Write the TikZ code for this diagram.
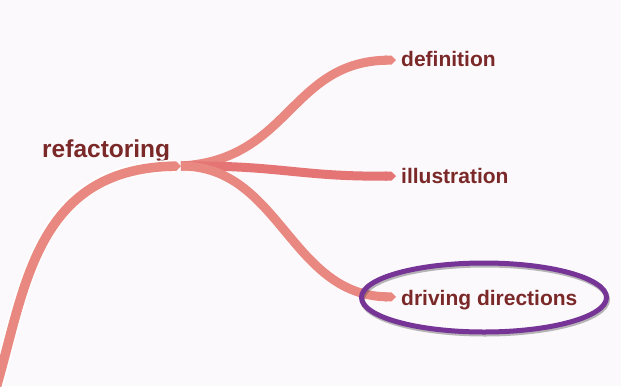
\documentclass[tikz,border=0pt]{standalone}
\usepackage{fontspec}
\setmainfont{Liberation Sans}
\usetikzlibrary{arrows.meta}
\definecolor{bgtint}{RGB}{252,249,252}
\definecolor{branchsalmon}{RGB}{232,136,128}
\definecolor{branchrose}{RGB}{229,116,116}
\definecolor{labelbrown}{RGB}{122,40,40}
\definecolor{ringpurple}{RGB}{118,52,150}
\tikzset{
  topic/.style={text=labelbrown, font=\bfseries\fontsize{21}{21}\selectfont, inner sep=0pt},
  roottopic/.style={topic, font=\bfseries\fontsize{24.5}{24.5}\selectfont},
  branch/.style={draw=branchsalmon, line width=9, line cap=butt, -{Triangle Cap[]}},
  ring/.style={draw=ringpurple, line width=5},
}
\begin{document}
\begin{tikzpicture}[x=1pt, y=-1pt]
  \fill[bgtint] (0,0) rectangle (621,386);
  \useasboundingbox (0,0) rectangle (621,386);

  % topic labels
  \node[roottopic, anchor=base west] (root) at (42,157) {refactoring};
  \node[topic, anchor=base west] (def) at (401,66) {definition};
  \node[topic, anchor=base west] (ill) at (401,183) {illustration};
  \node[topic, anchor=base west] (drv) at (401,305) {driving directions};

  % branch points
  \coordinate (hub) at (181,166);
  \coordinate (src) at (-4,388);
  \coordinate (defend) at (396,60);
  \coordinate (illend) at (396,176);
  \coordinate (drvend) at (396,297);

  % child branches
  \draw[branch] (hub) .. controls (290,160) and (290,62) .. (defend);
  \draw[branch, draw=branchrose] (hub) .. controls (280,165) and (300,177) .. (illend);
  \draw[branch] (hub) .. controls (280,166) and (290,295) .. (drvend);

  % branch from the root into the hub
  \draw[branch, line width=9.5, preaction={draw=white, line width=12.5}]
    (src) .. controls (25,290) and (35,170) .. (hub);

  % highlight ring with a soft shadow
  \draw[draw=black!70, line width=5, opacity=0.4] (485,299.5) ellipse [x radius=122.5, y radius=34.5];
  \draw[ring] (484,297.5) ellipse [x radius=122.5, y radius=34.5];
\end{tikzpicture}
\end{document}
